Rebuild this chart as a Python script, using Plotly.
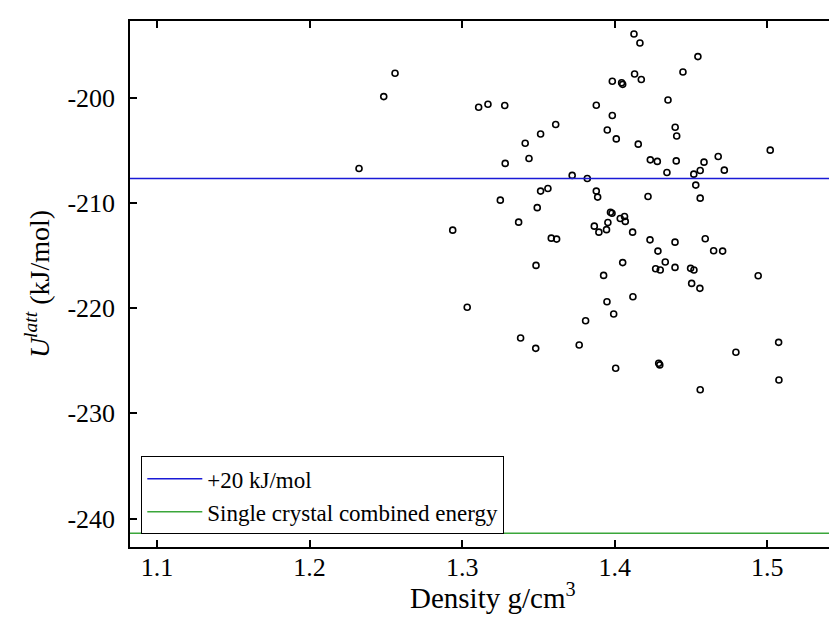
import plotly.graph_objects as go

# ---- data ----
density = [
    1.2324, 1.2486, 1.2560, 1.3108, 1.3169, 1.3279, 1.3879, 1.3984, 1.4045, 1.4052,
    1.3984, 1.3951, 1.4010, 1.3613, 1.3514, 1.3413, 1.3438, 1.3282, 1.3721, 1.3820,
    1.3514, 1.3562, 1.3879, 1.3888, 1.3250, 1.3492, 1.4126, 1.4165, 1.4545, 1.4447,
    1.4130, 1.4174, 1.4349, 1.4396, 1.4406, 1.4154, 1.5019, 1.4233, 1.4279, 1.4403,
    1.4585, 1.4678, 1.4718, 1.4560, 1.4518, 1.4342, 1.4531, 1.4560, 1.4218, 1.3972,
    1.3982, 1.3955, 1.3946, 1.4036, 1.4064, 1.4069, 1.4117, 1.3866, 1.3896, 1.4231,
    1.4395, 1.4593, 1.4283, 1.4648, 1.4707, 1.4052, 1.4331, 1.4268, 1.4298, 1.4395,
    1.4497, 1.4519, 1.4940, 1.4504, 1.4558, 1.4119, 1.3949, 1.3993, 1.5074, 1.4794,
    1.4006, 1.4288, 1.4295, 1.5076, 1.4560, 1.3370, 1.2938, 1.3584, 1.3619, 1.3484,
    1.3927, 1.3033, 1.3383, 1.3482, 1.3767, 1.3809,
]
lattice_energy = [
    -206.74, -199.91, -197.69, -200.92, -200.64, -200.76, -200.73, -198.45, -198.60, -198.75,
    -201.71, -203.08, -203.93, -202.56, -203.46, -204.34, -205.79, -206.26, -207.40, -207.69,
    -208.89, -208.64, -208.89, -209.46, -209.75, -210.46, -193.96, -194.82, -196.11, -197.57,
    -197.76, -198.29, -200.23, -202.82, -203.65, -204.43, -205.00, -205.92, -206.07, -206.02,
    -206.14, -205.60, -206.90, -206.93, -207.28, -207.12, -208.32, -209.56, -209.40, -210.90,
    -211.00, -211.87, -212.55, -211.49, -211.30, -211.77, -212.79, -212.22, -212.79, -213.52,
    -213.74, -213.42, -214.59, -214.56, -214.59, -215.68, -215.63, -216.27, -216.39, -216.14,
    -216.23, -216.39, -216.93, -217.66, -218.13, -218.93, -219.40, -220.57, -223.26, -224.20,
    -225.72, -225.25, -225.40, -226.83, -227.76, -211.84, -212.60, -213.36, -213.45, -215.95,
    -216.90, -219.93, -222.85, -223.83, -223.51, -221.21,
]
plus20_energy = -207.7
single_crystal_energy = -241.4
line_names = ["+20 kJ/mol", "Single crystal combined energy"]

x_ticks = [1.1, 1.2, 1.3, 1.4, 1.5]
x_tick_labels = ["1.1", "1.2", "1.3", "1.4", "1.5"]
y_ticks = [-200, -210, -220, -230, -240]
y_tick_labels = ["-200", "-210", "-220", "-230", "-240"]
x_range = [1.0823, 1.5509]
y_range = [-242.7, -192.73]
x_title = "Density g/cm<sup>3</sup>"
y_title = "<i>U</i><sup><i>latt</i></sup> (kJ/mol)"

FONT = "Liberation Serif"

fig = go.Figure()
fig.add_trace(go.Scatter(
    x=density, y=lattice_energy, mode="markers", showlegend=False,
    marker=dict(symbol="circle-open", size=6, color="black", line=dict(width=1.6)),
))
fig.add_trace(go.Scatter(
    x=x_range, y=[plus20_energy, plus20_energy], mode="lines", name=line_names[0],
    line=dict(color="#1a1ad6", width=1.5),
))
fig.add_trace(go.Scatter(
    x=x_range, y=[single_crystal_energy, single_crystal_energy], mode="lines", name=line_names[1],
    line=dict(color="#3aa63a", width=1.5),
))

fig.update_layout(
    width=837, height=617,
    margin=dict(l=122, r=0, t=13, b=78),
    paper_bgcolor="white", plot_bgcolor="white",
    font=dict(family=FONT, color="black"),
    legend=dict(
        x=0.0158, y=0.024, xanchor="left", yanchor="bottom",
        bgcolor="white", bordercolor="black", borderwidth=1,
        font=dict(family=FONT, size=23, color="black"),
        tracegroupgap=0, itemwidth=55,
    ),
    xaxis=dict(
        range=x_range, tickvals=x_ticks, ticktext=x_tick_labels,
        showgrid=False, zeroline=False,
        showline=True, linecolor="black", linewidth=1.5, mirror="ticks",
        ticks="inside", ticklen=7, tickwidth=2, tickcolor="black",
        tickfont=dict(family=FONT, size=26),
        ticklabelstandoff=-4,
    ),
    yaxis=dict(
        range=y_range, tickvals=y_ticks, ticktext=y_tick_labels,
        showgrid=False, zeroline=False,
        showline=True, linecolor="black", linewidth=1.5, mirror=False,
        ticks="inside", ticklen=7, tickwidth=2, tickcolor="black",
        tickfont=dict(family=FONT, size=26),
        ticklabelstandoff=8,
        title=dict(text=y_title, font=dict(family=FONT, size=28), standoff=10),
    ),
    annotations=[dict(
        text=x_title, xref="paper", yref="paper", x=0.5077, y=-0.13,
        xanchor="center", yanchor="bottom", showarrow=False, borderpad=0,
        font=dict(family=FONT, size=29, color="black"),
    )],
)

fig.write_html("out.html")
